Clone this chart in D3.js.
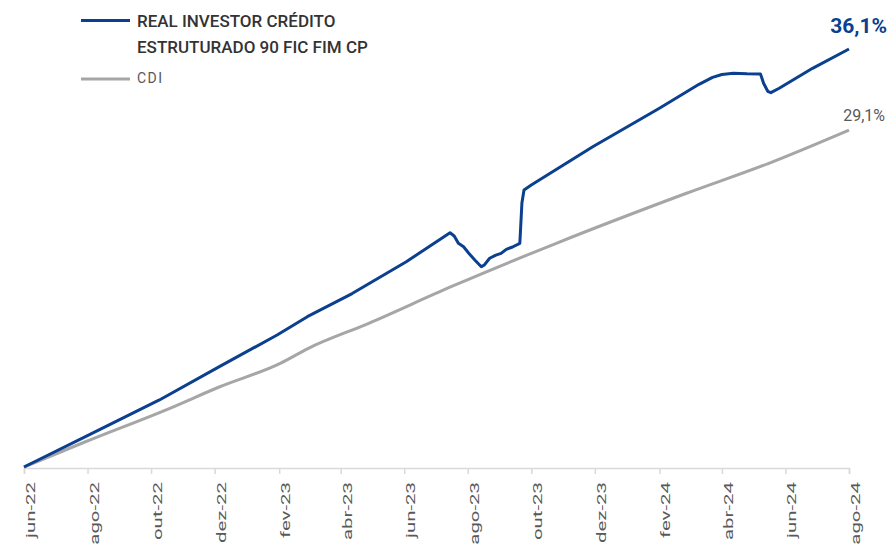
<!DOCTYPE html>
<html lang="pt">
<head>
    <meta charset="UTF-8">
    <title>Real Investor Crédito Estruturado 90 x CDI</title>
    <script src="https://cdnjs.cloudflare.com/ajax/libs/d3/7.8.5/d3.min.js"></script>
    <style>
        * {
            margin: 0;
            padding: 0;
            box-sizing: border-box;
        }

        body {
            background: #ffffff;
            font-family: Roboto, "Noto Sans", sans-serif;
            overflow: hidden;
        }
    </style>
</head>
<body>
<div id="chart"></div>

<script>
    // Data (accumulated return, %)
    const fundDates = ["2022-06-01", "2022-07-30", "2022-10-09", "2022-12-06", "2023-01-30", "2023-02-28",
        "2023-04-12", "2023-06-03", "2023-07-15", "2023-07-19", "2023-07-23", "2023-07-28", "2023-08-02",
        "2023-08-08", "2023-08-14", "2023-08-17", "2023-08-22", "2023-08-28", "2023-09-02", "2023-09-07",
        "2023-09-13", "2023-09-20", "2023-09-22", "2023-09-24", "2023-10-01", "2023-11-29", "2024-02-01",
        "2024-03-10", "2024-03-23", "2024-04-01", "2024-04-12", "2024-04-25", "2024-05-08", "2024-05-11",
        "2024-05-15", "2024-05-18", "2024-05-26", "2024-06-27", "2024-08-01"];
    const fundValues = [0, 2.62, 5.79, 8.69, 11.40, 12.98,
        14.98, 17.73, 20.23, 19.95, 19.32, 19.02, 18.46,
        17.85, 17.30, 17.45, 18.03, 18.30, 18.45, 18.80,
        19.00, 19.32, 22.80, 23.92, 24.35, 27.66, 30.98,
        33.05, 33.65, 33.90, 34.00, 33.96, 33.95, 33.14,
        32.45, 32.33, 32.71, 34.43, 36.1];

    const cdiDates = ["2022-06-01", "2022-07-30", "2022-10-19", "2022-12-06", "2023-02-02", "2023-03-01",
        "2023-04-28", "2023-07-16", "2023-10-25", "2024-02-27", "2024-05-16", "2024-08-01"];
    const cdiValues = [0, 2.18, 5.07, 6.93, 8.95, 10.25,
        12.41, 15.57, 19.32, 23.64, 26.23, 29.1];

    const tickLabels = ["jun-22", "ago-22", "out-22", "dez-22", "fev-23", "abr-23", "jun-23",
        "ago-23", "out-23", "dez-23", "fev-24", "abr-24", "jun-24", "ago-24"];

    const seriesNames = ["REAL INVESTOR CRÉDITO", "ESTRUTURADO 90 FIC FIM CP", "CDI"];
    const endLabels = ["36,1%", "29,1%"];

    const width = 890;
    const height = 544;
    const blue = "#0b3f8f";
    const gray = "#a6a6a6";

    const parse = d3.timeParse("%Y-%m-%d");

    const svg = d3.select("#chart")
        .append("svg")
        .attr("width", width)
        .attr("height", height);

    const x = d3.scaleTime()
        .domain([parse("2022-06-01"), parse("2024-08-01")])
        .range([24, 849]);

    const y = d3.scaleLinear()
        .domain([0, 36.1])
        .range([467, 49]);

    // x axis, one tick every two months starting at jun-22
    const tickDates = d3.timeMonth.range(parse("2022-06-01"), parse("2024-08-02"), 2);

    const xAxis = svg.append("g")
        .attr("transform", "translate(0,468)")
        .call(d3.axisBottom(x)
            .tickValues(tickDates)
            .tickSize(6)
            .tickFormat((d, i) => tickLabels[i]));

    xAxis.select(".domain").attr("stroke", "#d9d9d9").attr("stroke-width", 1.5);
    xAxis.selectAll(".tick line").attr("stroke", "#d9d9d9").attr("stroke-width", 1.5);
    // labels look stretched along their length in the original, hence the scale
    xAxis.selectAll(".tick text")
        .attr("y", null)
        .attr("dy", null)
        .attr("text-anchor", "end")
        .attr("transform", "translate(10.5,14) rotate(-90) scale(1.7,1)")
        .attr("fill", "#595959")
        .style("font-family", "Roboto, sans-serif")
        .style("font-size", "12px")
        .style("font-weight", 400);

    // lines
    const cdiLine = d3.line()
        .x(d => x(d.date))
        .y(d => y(d.value))
        .curve(d3.curveMonotoneX);

    const fundLine = d3.line()
        .x(d => x(d.date))
        .y(d => y(d.value));

    const cdi = cdiDates.map((d, i) => ({date: parse(d), value: cdiValues[i]}));
    const fund = fundDates.map((d, i) => ({date: parse(d), value: fundValues[i]}));

    svg.append("path")
        .datum(cdi)
        .attr("fill", "none")
        .attr("stroke", gray)
        .attr("stroke-width", 3)
        .attr("d", cdiLine);

    svg.append("path")
        .datum(fund)
        .attr("fill", "none")
        .attr("stroke", blue)
        .attr("stroke-width", 3)
        .attr("stroke-linejoin", "round")
        .attr("d", fundLine);

    // end labels
    svg.append("text")
        .attr("x", 887)
        .attr("y", 33)
        .attr("text-anchor", "end")
        .attr("fill", blue)
        .style("font-size", "21px")
        .style("font-weight", 700)
        .text(endLabels[0]);

    svg.append("text")
        .attr("x", 885)
        .attr("y", 121)
        .attr("text-anchor", "end")
        .attr("fill", "#595959")
        .style("font-size", "16px")
        .text(endLabels[1]);

    // legend
    const legend = svg.append("g");

    legend.append("line")
        .attr("x1", 81).attr("x2", 130)
        .attr("y1", 20.5).attr("y2", 20.5)
        .attr("stroke", blue)
        .attr("stroke-width", 3);

    legend.append("text")
        .attr("x", 137)
        .attr("y", 27)
        .attr("fill", "#333333")
        .style("font-size", "17px")
        .style("font-weight", 500)
        .text(seriesNames[0]);

    legend.append("text")
        .attr("x", 137)
        .attr("y", 53)
        .attr("fill", "#333333")
        .style("font-size", "17px")
        .style("font-weight", 500)
        .text(seriesNames[1]);

    legend.append("line")
        .attr("x1", 81).attr("x2", 130)
        .attr("y1", 79).attr("y2", 79)
        .attr("stroke", gray)
        .attr("stroke-width", 3);

    legend.append("text")
        .attr("x", 137)
        .attr("y", 83)
        .attr("fill", "#595959")
        .style("font-size", "14px")
        .style("letter-spacing", "1.5px")
        .text(seriesNames[2]);
</script>
</body>
</html>
